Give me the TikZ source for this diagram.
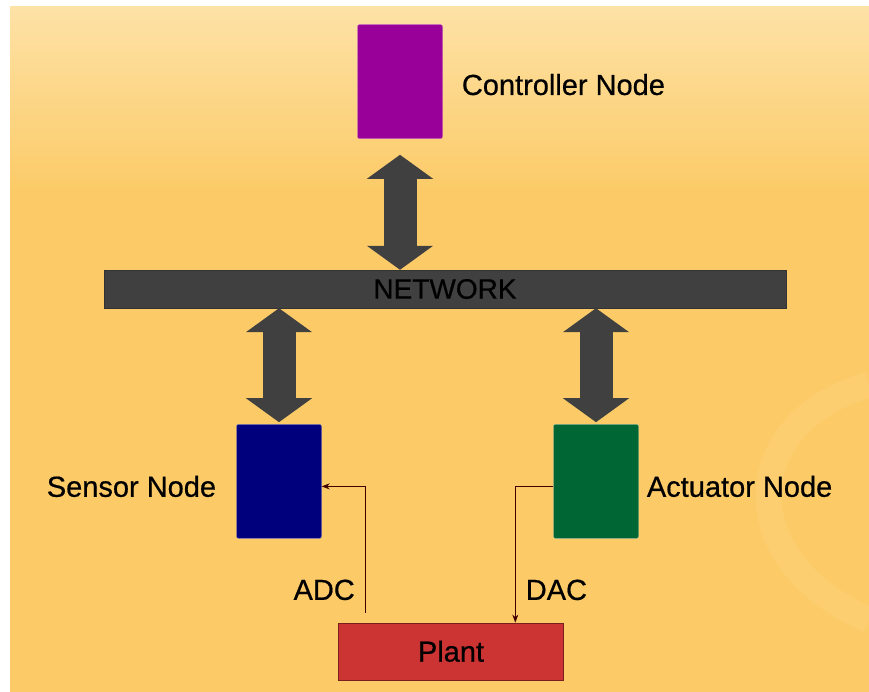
\documentclass[tikz,border=0pt]{standalone}
\usepackage{fontspec}
\setmainfont{Liberation Sans}
\newfontfamily\heavysans{Liberation Sans}[FakeBold=0.6]
\usetikzlibrary{arrows.meta, positioning, calc}
\definecolor{bgorange}{RGB}{252,203,104}
\definecolor{bglight}{RGB}{253,226,166}
\definecolor{ctrlpurple}{RGB}{153,0,153}
\definecolor{sensorblue}{RGB}{0,0,125}
\definecolor{actgreen}{RGB}{0,102,51}
\definecolor{plantred}{RGB}{204,51,51}
\definecolor{netgray}{RGB}{64,64,64}
\tikzstyle{nodebox} = [rectangle, rounded corners=2pt, minimum width=85pt, minimum height=114pt, inner sep=0pt]
\tikzstyle{netbar} = [rectangle, minimum width=682pt, minimum height=38pt, inner sep=0pt, draw=black!80, fill=netgray, font=\heavysans\fontsize{28}{32}\selectfont]
\tikzstyle{plantbox} = [rectangle, minimum width=225pt, minimum height=57pt, inner sep=0pt, draw=plantred!60!black, fill=plantred, font=\heavysans\fontsize{29}{34}\selectfont]
\tikzstyle{nodetext} = [inner sep=0pt, font=\heavysans\fontsize{29}{34}\selectfont]
\tikzstyle{bus} = [line width=33pt, draw=netgray, {Triangle[length=24pt,width=65pt]}-{Triangle[length=24pt,width=65pt]}]
\tikzstyle{signal} = [line width=1pt, draw=black!75!red, -{Stealth[length=8pt,width=6pt]}]

\begin{document}
\begin{tikzpicture}[x=1pt, y=-1pt]
    % Background
    \useasboundingbox (0,0) rectangle (869,692);
    \fill[white] (0,0) rectangle (869,692);
    \fill[bgorange] (10,7) rectangle (869,692);
    \shade[top color=bglight, bottom color=bgorange] (10,7) rectangle (869,190);
    \draw[white, opacity=0.06, line width=26pt] (869,385) .. controls (740,420) and (730,560) .. (869,620);

    % Nodes
    \node (net) [netbar] at (445,289) {NETWORK};
    \node (ctrl) [nodebox, draw=ctrlpurple!60!white, fill=ctrlpurple, above=131pt of net, xshift=-45pt] {};
    \node (sensor) [nodebox, draw=sensorblue!50!white, fill=sensorblue, below=116pt of net, xshift=-166pt] {};
    \node (actuator) [nodebox, draw=actgreen!50!white, fill=actgreen, below=116pt of net, xshift=151pt] {};
    \node (plant) [plantbox, below=84pt of sensor.south, anchor=north, xshift=172pt] {Plant};

    % Labels
    \node (ctrltext) [nodetext, right=19pt of ctrl, yshift=-3pt] {Controller Node};
    \node (sensortext) [nodetext, left=20pt of sensor, yshift=-5pt] {Sensor Node};
    \node (acttext) [nodetext, right=8pt of actuator, yshift=-5pt] {Actuator Node};

    % Network links
    \draw [bus] ([yshift=-16pt]ctrl.south) -- (net.north -| ctrl.south);
    \draw [bus] (net.south -| sensor.north) -- ([yshift=2pt]sensor.north);
    \draw [bus] (net.south -| actuator.north) -- ([yshift=2pt]actuator.north);

    % Plant signals
    \draw [signal] ([xshift=27pt, yshift=10pt]plant.north west) |- node[nodetext, pos=0.09, left=10pt] {ADC} ([yshift=-5pt]sensor.east);
    \draw [signal] ([yshift=-5pt]actuator.west) -| node[nodetext, pos=0.88, right=10pt] {DAC} ([xshift=177pt]plant.north west);
\end{tikzpicture}
\end{document}
